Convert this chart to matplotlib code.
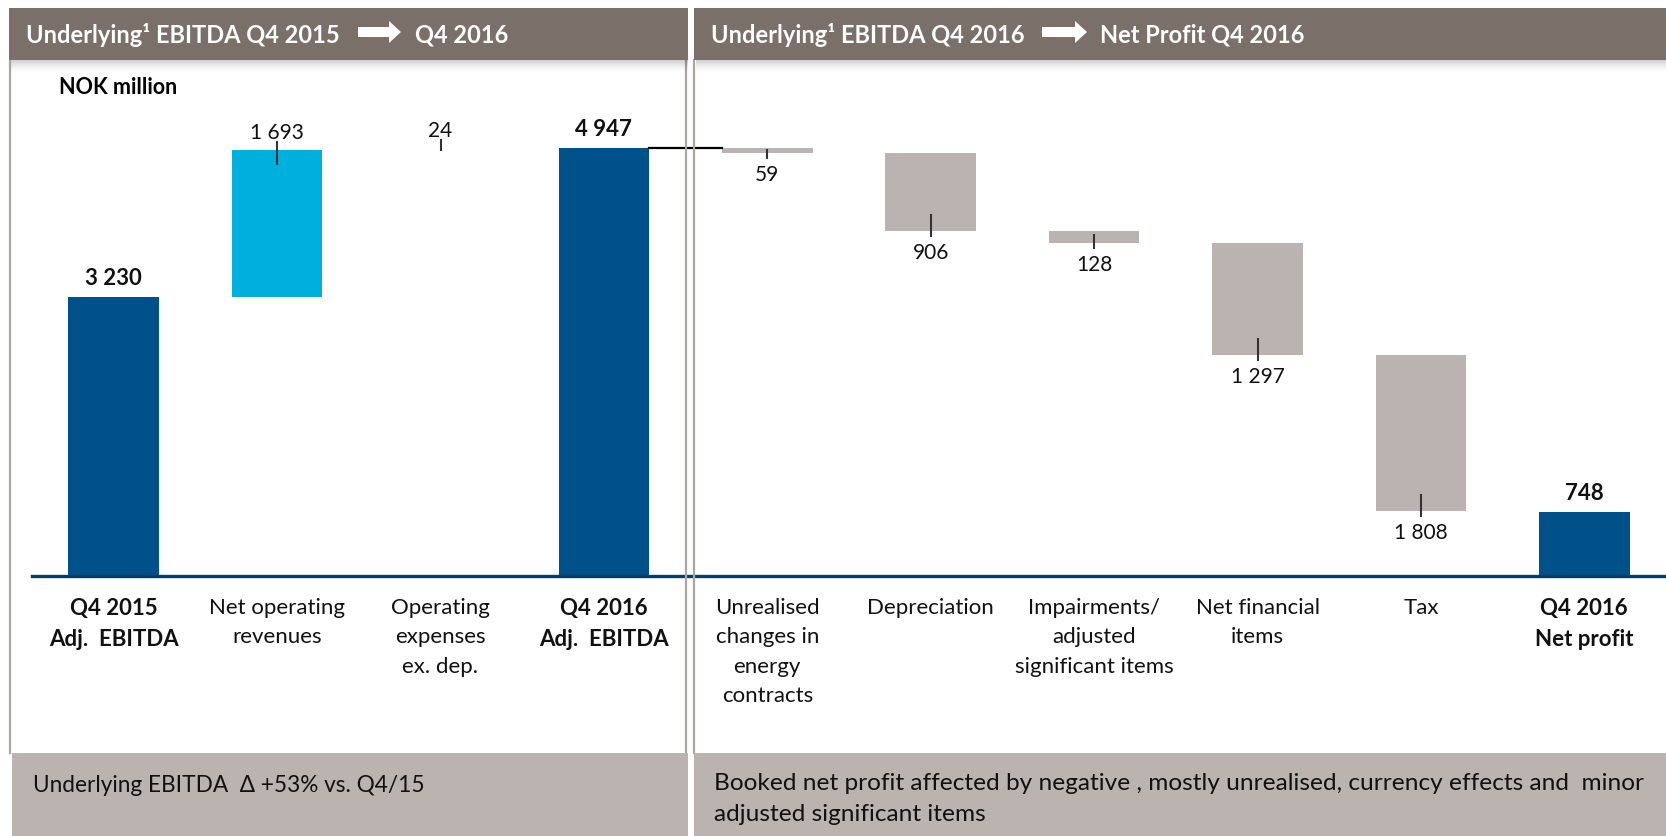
import matplotlib
matplotlib.use("Agg")
import matplotlib.pyplot as plt
from matplotlib.patches import Rectangle, Polygon
from matplotlib.transforms import blended_transform_factory

plt.rcParams['font.family'] = ['Lato', 'DejaVu Sans']

# ---------------- data ----------------
categories = [
    "Q4 2015\nAdj.  EBITDA",
    "Net operating\nrevenues",
    "Operating\nexpenses\nex. dep.",
    "Q4 2016\nAdj.  EBITDA",
    "Unrealised\nchanges in\nenergy\ncontracts",
    "Depreciation",
    "Impairments/\nadjusted\nsignificant items",
    "Net financial\nitems",
    "Tax",
    "Q4 2016\nNet profit",
]
values = [3230, 1693, 24, 4947, -59, -906, -128, -1297, -1808, 748]
kinds = ["total", "up", "up", "total", "down", "down", "down", "down", "down", "total"]
value_labels = ["3 230", "1 693", "24", "4 947", "59", "906", "128", "1 297", "1 808", "748"]

header_left = ("Underlying¹ EBITDA Q4 2015", "Q4 2016")
header_right = ("Underlying¹ EBITDA Q4 2016", "Net Profit Q4 2016")
unit_label = "NOK million"
note_left = "Underlying EBITDA  Δ +53% vs. Q4/15"
note_right = ("Booked net profit affected by negative , mostly unrealised, currency effects and  minor\n"
              "adjusted significant items")

# ---------------- styles ----------------
DARK = "#00508A"
LIGHT = "#00B0DC"
GREY = "#BAB3AF"
HEAD = "#7B6F6A"
LINEGREY = "#ABA6A2"
kind_color = {"total": DARK, "up": LIGHT, "down": GREY}
bar_colors = [kind_color[k] for k in kinds]
bar_colors[2] = "white"  # tiny opex bar not visible in the original

W, H = 1666, 837
fig = plt.figure(figsize=(W / 100, H / 100), dpi=100)


def fx(px):
    return px / W


def fy(py):
    return 1 - py / H


def frect(x0, y0, x1, y1, **kw):
    fig.patches.append(Rectangle((fx(x0), fy(y1)), fx(x1) - fx(x0), (y1 - y0) / H,
                                 transform=fig.transFigure, **kw))


def fline(x0, y0, x1, y1, **kw):
    fig.add_artist(plt.Line2D([fx(x0), fx(x1)], [fy(y0), fy(y1)], transform=fig.transFigure, **kw))


# ---------------- frame elements ----------------
for (x0, x1) in [(9, 688), (694, 1666)]:
    n = 12
    for i in range(n):
        frect(x0 + 2, 61 + i, x1, 62 + i, facecolor="black", alpha=0.18 * (1 - i / n) ** 1.5,
              edgecolor="none", zorder=1)
    frect(x0, 9, x1, 61, facecolor=HEAD, edgecolor="none", zorder=2)

fline(10, 61, 10, 754, color=LINEGREY, lw=1.6, zorder=1)
fline(686, 61, 686, 754, color=LINEGREY, lw=1.6, zorder=1)
fline(694, 61, 694, 754, color=LINEGREY, lw=1.6, zorder=1)

frect(12, 754, 688, 837, facecolor=GREY, edgecolor="none", zorder=1)
frect(694, 754, 1666, 837, facecolor=GREY, edgecolor="none", zorder=1)


def arrow(x0, xb, xt, yc):
    pts = [(x0, yc - 5), (xb, yc - 5), (xb, yc - 11), (xt, yc), (xb, yc + 11), (xb, yc + 5), (x0, yc + 5)]
    fig.patches.append(Polygon([(fx(a), fy(b)) for a, b in pts], closed=True, transform=fig.transFigure,
                               facecolor="white", edgecolor="none", zorder=3))


hdr_kw = dict(color="white", fontweight="bold", fontsize=17, va="center", ha="left", zorder=4)
fig.text(fx(26.5), fy(35), header_left[0], **hdr_kw)
arrow(358, 389, 401, 33)
fig.text(fx(415), fy(35), header_left[1], **hdr_kw)
fig.text(fx(711), fy(35), header_right[0], **hdr_kw)
arrow(1042, 1075, 1087, 33)
fig.text(fx(1100), fy(35), header_right[1], **hdr_kw)

fig.text(fx(59), fy(88), unit_label, fontweight="bold", fontsize=15.5, va="center", ha="left")

fig.text(fx(33), fy(786), note_left, color="#111111", fontsize=16.3, va="center", ha="left", zorder=3)
fig.text(fx(714), fy(773), note_right, color="#111111", fontsize=17.6, va="top", ha="left",
         linespacing=1.58, zorder=3)

# ---------------- chart ----------------
BASE = 577.3
PXU = 0.0866  # pixels per NOK million
YMAX = (BASE - 100) / PXU
ax = fig.add_axes([fx(32), fy(BASE), 1 - fx(32), (BASE - 100) / H])
ax.set_xlim(-0.5, 9.5)
ax.set_ylim(0, YMAX)
ax.axis("off")

unit_px = 1 / PXU  # data units per pixel
x = list(range(len(values)))
bottoms, tops = [], []
run = 0
for v, k in zip(values, kinds):
    if k == "total":
        b, t = 0, v
        run = v
    else:
        b, t = (run, run + v) if v >= 0 else (run + v, run)
        run += v
    bottoms.append(b)
    tops.append(t)

ax.bar(x, [t - b for t, b in zip(tops, bottoms)], bottom=bottoms, width=0.555,
       color=bar_colors, edgecolor="none", zorder=2)
ax.axhline(0, color="#0B3C64", lw=2.4, zorder=3, clip_on=False)

ax.plot([3 + 0.555 / 2, 4 - 0.555 / 2], [tops[3], tops[3]], color="black", lw=1.6, zorder=3)

for i, (v, k, lab) in enumerate(zip(values, kinds, value_labels)):
    if k == "total":
        ax.annotate(lab, (i, tops[i]), xytext=(0, 19.5 * 0.72), textcoords="offset points",
                    ha="center", va="center", fontsize=16, fontweight="bold", color="#111111")
    elif k == "up":
        t0 = tops[i] + 8 * unit_px
        t1 = max(bottoms[i], tops[i] - 14 * unit_px)
        ax.plot([i, i], [t0, t1], color="#333333", lw=1.5, zorder=4)
        ax.annotate(lab, (i, tops[i]), xytext=(0, 17.5 * 0.72), textcoords="offset points",
                    ha="center", va="center", fontsize=15, color="#111111")
    else:
        h = tops[i] - bottoms[i]
        t0 = min(tops[i] - 0.35 * h, bottoms[i] + 16 * unit_px)
        t1 = bottoms[i] - 5 * unit_px
        ax.plot([i, i], [t0, t1], color="#333333", lw=1.5, zorder=4)
        ax.annotate(lab, (i, bottoms[i]), xytext=(0, -21 * 0.72), textcoords="offset points",
                    ha="center", va="center", fontsize=15, color="#111111")

tr = blended_transform_factory(ax.transData, fig.transFigure)
for i, c in enumerate(categories):
    bold = kinds[i] == "total"
    ax.text(i, fy(598), c, transform=tr, ha="center", va="top", fontsize=16,
            fontweight="bold" if bold else "normal", linespacing=1.58, color="#111111")

fig.savefig("out.png", dpi=100)
